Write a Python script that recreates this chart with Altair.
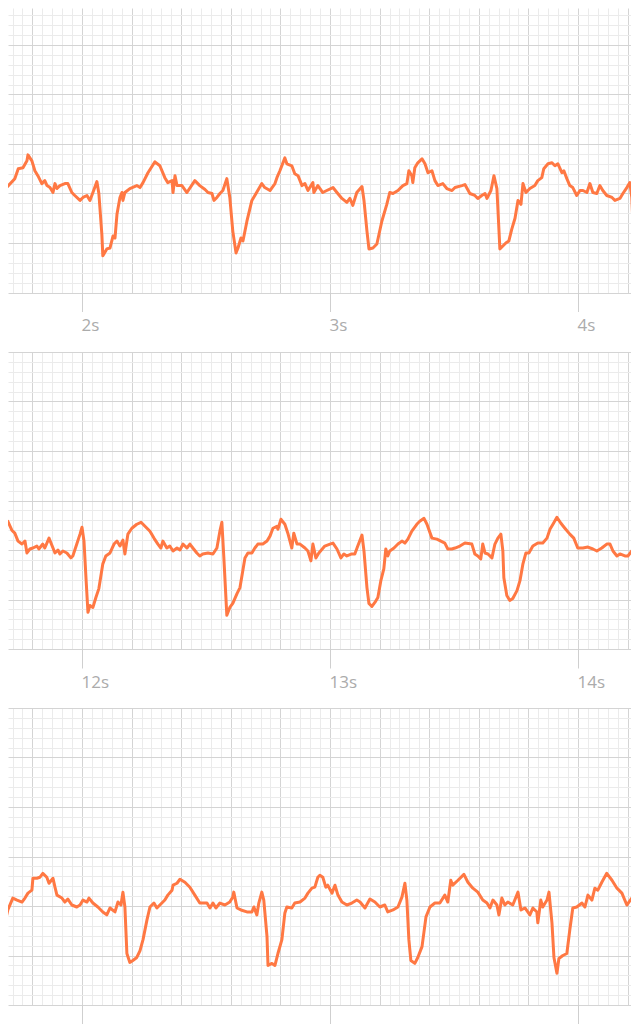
import math
import altair as alt
import pandas as pd

# ---- ECG trace, three strips (time in s, amplitude in mV) ----
t1 = [1.649, 1.669, 1.696, 1.729, 1.743, 1.762, 1.778, 1.782, 1.798, 1.810,
      1.822, 1.838, 1.850, 1.859, 1.871, 1.883, 1.891, 1.899, 1.911, 1.931,
      1.943, 1.959, 1.971, 1.992, 2.004, 2.020, 2.032, 2.044, 2.060, 2.068,
      2.080, 2.084, 2.100, 2.113, 2.125, 2.133, 2.141, 2.153, 2.161, 2.165,
      2.173, 2.193, 2.221, 2.234, 2.246, 2.266, 2.294, 2.314, 2.334, 2.346,
      2.363, 2.367, 2.375, 2.383, 2.403, 2.423, 2.455, 2.475, 2.496, 2.508,
      2.524, 2.532, 2.544, 2.556, 2.568, 2.584, 2.596, 2.608, 2.621, 2.629,
      2.641, 2.649, 2.665, 2.685, 2.697, 2.725, 2.737, 2.758, 2.778, 2.786,
      2.798, 2.818, 2.826, 2.846, 2.858, 2.871, 2.887, 2.899, 2.911, 2.931,
      2.935, 2.951, 2.971, 2.987, 3.012, 3.028, 3.048, 3.068, 3.080, 3.092,
      3.108, 3.129, 3.137, 3.149, 3.157, 3.173, 3.189, 3.209, 3.229, 3.241,
      3.254, 3.274, 3.294, 3.310, 3.318, 3.330, 3.334, 3.342, 3.354, 3.371,
      3.383, 3.395, 3.411, 3.423, 3.435, 3.455, 3.471, 3.492, 3.504, 3.532,
      3.544, 3.564, 3.584, 3.596, 3.612, 3.625, 3.633, 3.649, 3.661, 3.673,
      3.685, 3.697, 3.709, 3.721, 3.733, 3.746, 3.758, 3.770, 3.778, 3.790,
      3.806, 3.826, 3.838, 3.854, 3.862, 3.879, 3.895, 3.907, 3.919, 3.935,
      3.943, 3.955, 3.967, 3.979, 3.995, 4.008, 4.020, 4.036, 4.048, 4.060,
      4.076, 4.088, 4.100, 4.116, 4.137, 4.149, 4.169, 4.181, 4.197, 4.209,
      4.217, 4.225, 4.237, 4.245, 4.257]
v1 = [-0.02, 0.01, 0.06, 0.15, 0.25, 0.26, 0.33, 0.39, 0.33, 0.23,
      0.18, 0.10, 0.13, 0.08, 0.06, 0.01, 0.10, 0.05, 0.08, 0.10,
      0.10, 0.01, -0.02, -0.07, -0.04, -0.02, -0.07, 0.01, 0.12, 0.00,
      -0.41, -0.63, -0.56, -0.55, -0.43, -0.45, -0.21, -0.04, 0.01, -0.07,
      0.01, 0.05, 0.08, 0.06, 0.11, 0.21, 0.32, 0.28, 0.16, 0.11,
      0.13, 0.01, 0.18, 0.08, 0.08, 0.01, 0.13, 0.08, 0.04, 0.01,
      0.00, -0.07, -0.04, 0.00, 0.03, 0.15, -0.04, -0.38, -0.60, -0.55,
      -0.45, -0.48, -0.28, -0.07, -0.02, 0.10, 0.06, 0.03, 0.10, 0.16,
      0.23, 0.36, 0.30, 0.28, 0.20, 0.18, 0.08, 0.10, 0.03, 0.11,
      0.01, 0.08, 0.01, 0.03, 0.06, 0.01, -0.05, -0.09, -0.05, -0.12,
      0.01, 0.07, -0.07, -0.38, -0.56, -0.55, -0.51, -0.28, -0.11, 0.01,
      0.00, 0.03, 0.08, 0.10, 0.23, 0.18, 0.11, 0.26, 0.31, 0.35,
      0.30, 0.21, 0.23, 0.13, 0.08, 0.10, 0.05, 0.03, 0.06, 0.08,
      0.09, 0.00, -0.02, -0.05, -0.02, 0.00, -0.05, 0.03, 0.18, 0.05,
      -0.56, -0.53, -0.50, -0.48, -0.36, -0.25, -0.07, -0.11, 0.10, 0.01,
      0.05, 0.08, 0.13, 0.16, 0.25, 0.30, 0.31, 0.28, 0.30, 0.21,
      0.23, 0.15, 0.08, 0.06, -0.02, 0.03, 0.03, 0.01, 0.10, 0.01,
      0.00, 0.08, 0.03, -0.02, -0.04, -0.07, -0.05, 0.00, 0.06, 0.11,
      -0.04, -0.51, -0.61, -0.60, -0.58]

t2 = [11.653, 11.669, 11.681, 11.693, 11.701, 11.717, 11.729, 11.742, 11.758, 11.770,
      11.778, 11.790, 11.802, 11.818, 11.826, 11.842, 11.850, 11.867, 11.883, 11.891,
      11.903, 11.911, 11.923, 11.939, 11.955, 11.963, 11.979, 11.992, 12.000, 12.008,
      12.016, 12.024, 12.032, 12.044, 12.056, 12.068, 12.084, 12.096, 12.113, 12.129,
      12.141, 12.153, 12.165, 12.173, 12.185, 12.201, 12.221, 12.238, 12.246, 12.262,
      12.274, 12.290, 12.306, 12.318, 12.326, 12.342, 12.354, 12.367, 12.383, 12.395,
      12.407, 12.423, 12.435, 12.447, 12.463, 12.475, 12.487, 12.508, 12.528, 12.544,
      12.556, 12.564, 12.572, 12.584, 12.596, 12.608, 12.625, 12.637, 12.657, 12.669,
      12.685, 12.697, 12.709, 12.729, 12.746, 12.758, 12.770, 12.786, 12.790, 12.802,
      12.818, 12.830, 12.846, 12.854, 12.867, 12.879, 12.899, 12.911, 12.923, 12.931,
      12.943, 12.955, 12.979, 13.000, 13.012, 13.028, 13.044, 13.056, 13.068, 13.088,
      13.100, 13.112, 13.129, 13.137, 13.149, 13.157, 13.169, 13.181, 13.193, 13.205,
      13.217, 13.225, 13.233, 13.241, 13.258, 13.274, 13.290, 13.302, 13.314, 13.330,
      13.350, 13.362, 13.379, 13.391, 13.411, 13.431, 13.447, 13.463, 13.475, 13.491,
      13.504, 13.524, 13.544, 13.572, 13.584, 13.596, 13.608, 13.616, 13.625, 13.637,
      13.653, 13.665, 13.677, 13.689, 13.697, 13.701, 13.713, 13.725, 13.737, 13.754,
      13.766, 13.778, 13.790, 13.802, 13.818, 13.838, 13.858, 13.875, 13.887, 13.899,
      13.915, 13.931, 13.947, 13.967, 13.983, 13.999, 14.020, 14.040, 14.060, 14.076,
      14.096, 14.116, 14.129, 14.141, 14.157, 14.169, 14.189, 14.201, 14.217, 14.229,
      14.245, 14.262]
v2 = [0.26, 0.27, 0.29, 0.26, 0.29, 0.20, 0.17, 0.09, 0.06, 0.09,
      -0.03, 0.01, 0.02, 0.04, 0.01, 0.06, 0.02, 0.12, 0.02, -0.03,
      0.00, -0.04, -0.01, -0.03, -0.08, -0.06, 0.06, 0.16, 0.23, 0.09,
      -0.28, -0.63, -0.56, -0.58, -0.48, -0.39, -0.14, -0.06, -0.03, 0.06,
      0.09, 0.04, 0.10, -0.04, 0.16, 0.22, 0.26, 0.28, 0.26, 0.22,
      0.19, 0.12, 0.06, 0.02, 0.09, 0.02, 0.04, -0.01, 0.02, 0.00,
      0.06, 0.02, 0.06, 0.02, -0.03, -0.06, -0.04, -0.03, -0.04, 0.02,
      0.19, 0.28, -0.08, -0.66, -0.58, -0.54, -0.44, -0.38, -0.08, -0.03,
      -0.03, 0.02, 0.06, 0.06, 0.09, 0.14, 0.22, 0.24, 0.21, 0.31,
      0.26, 0.17, 0.02, 0.17, 0.06, 0.06, 0.02, -0.01, -0.11, 0.06,
      -0.08, -0.03, 0.04, 0.06, 0.07, 0.01, -0.08, -0.04, -0.06, -0.04,
      -0.04, 0.04, 0.15, -0.01, -0.38, -0.54, -0.57, -0.53, -0.48, -0.31,
      -0.19, 0.01, -0.06, -0.01, 0.02, 0.06, 0.09, 0.07, 0.11, 0.19,
      0.26, 0.29, 0.32, 0.26, 0.12, 0.11, 0.09, 0.07, 0.01, 0.01,
      0.02, 0.04, 0.07, 0.06, -0.04, -0.06, -0.09, 0.06, -0.03, -0.04,
      -0.08, 0.06, 0.12, 0.16, -0.01, -0.28, -0.46, -0.51, -0.49, -0.41,
      -0.31, -0.14, -0.03, -0.03, 0.04, 0.07, 0.07, 0.12, 0.21, 0.26,
      0.33, 0.27, 0.22, 0.16, 0.12, 0.02, 0.02, 0.03, 0.01, -0.01,
      0.02, 0.06, 0.06, -0.01, -0.06, -0.04, -0.06, -0.06, -0.01, 0.04,
      0.16, 0.24]

t3 = [21.657, 21.669, 21.681, 21.689, 21.701, 21.721, 21.738, 21.758, 21.770, 21.782,
      21.798, 21.802, 21.818, 21.830, 21.842, 21.858, 21.867, 21.883, 21.891, 21.899,
      21.919, 21.931, 21.943, 21.959, 21.979, 21.992, 22.004, 22.020, 22.028, 22.044,
      22.064, 22.084, 22.100, 22.113, 22.133, 22.145, 22.157, 22.165, 22.173, 22.181,
      22.193, 22.205, 22.221, 22.234, 22.246, 22.262, 22.274, 22.290, 22.302, 22.314,
      22.334, 22.346, 22.363, 22.367, 22.383, 22.395, 22.415, 22.435, 22.455, 22.475,
      22.487, 22.504, 22.516, 22.528, 22.540, 22.556, 22.576, 22.596, 22.608, 22.612,
      22.625, 22.641, 22.665, 22.685, 22.693, 22.705, 22.713, 22.725, 22.733, 22.746,
      22.750, 22.766, 22.778, 22.790, 22.806, 22.818, 22.826, 22.846, 22.858, 22.879,
      22.899, 22.911, 22.927, 22.939, 22.951, 22.959, 22.971, 22.983, 22.991, 23.008,
      23.020, 23.032, 23.048, 23.068, 23.088, 23.108, 23.121, 23.141, 23.161, 23.181,
      23.201, 23.221, 23.233, 23.254, 23.274, 23.290, 23.302, 23.310, 23.318, 23.326,
      23.342, 23.354, 23.371, 23.387, 23.403, 23.423, 23.443, 23.463, 23.475, 23.487,
      23.495, 23.516, 23.540, 23.556, 23.576, 23.596, 23.616, 23.633, 23.645, 23.657,
      23.673, 23.681, 23.693, 23.705, 23.717, 23.737, 23.758, 23.770, 23.786, 23.806,
      23.818, 23.834, 23.838, 23.850, 23.858, 23.875, 23.883, 23.895, 23.903, 23.915,
      23.923, 23.939, 23.955, 23.967, 23.979, 23.995, 24.016, 24.028, 24.040, 24.056,
      24.068, 24.080, 24.096, 24.116, 24.137, 24.157, 24.177, 24.197, 24.217, 24.229,
      24.245, 24.262]
v3 = [-0.50, -0.42, -0.34, -0.17, -0.04, 0.08, 0.06, 0.04, 0.08, 0.13,
      0.16, 0.28, 0.28, 0.29, 0.33, 0.29, 0.23, 0.28, 0.19, 0.11,
      0.08, 0.04, 0.07, 0.01, -0.01, 0.01, 0.06, 0.04, 0.08, 0.03,
      -0.01, -0.06, -0.09, -0.02, -0.06, 0.04, 0.01, 0.14, -0.01, -0.48,
      -0.57, -0.55, -0.52, -0.45, -0.34, -0.14, -0.01, 0.03, -0.02, 0.01,
      0.06, 0.11, 0.16, 0.21, 0.23, 0.27, 0.24, 0.19, 0.11, 0.03,
      0.03, 0.03, -0.02, 0.03, -0.02, 0.03, 0.01, 0.04, 0.09, 0.14,
      -0.02, -0.04, -0.06, -0.06, -0.01, -0.09, 0.03, 0.14, 0.06, -0.31,
      -0.60, -0.58, -0.60, -0.48, -0.34, -0.07, -0.01, -0.02, 0.03, 0.04,
      0.08, 0.13, 0.18, 0.19, 0.29, 0.31, 0.29, 0.19, 0.21, 0.13,
      0.21, 0.11, 0.04, 0.01, 0.03, 0.06, 0.04, -0.02, 0.07, 0.04,
      -0.01, 0.01, -0.06, -0.04, -0.01, 0.09, 0.23, 0.06, -0.34, -0.55,
      -0.58, -0.52, -0.41, -0.11, -0.01, 0.03, 0.03, 0.11, 0.04, 0.26,
      0.21, 0.26, 0.32, 0.24, 0.18, 0.14, 0.06, 0.03, -0.02, 0.06,
      0.01, -0.09, 0.08, 0.01, 0.04, 0.01, 0.14, -0.04, -0.02, -0.09,
      -0.02, -0.06, -0.17, 0.06, -0.01, 0.06, 0.14, -0.17, -0.52, -0.68,
      -0.53, -0.50, -0.48, -0.24, -0.02, -0.01, 0.03, -0.01, 0.11, 0.06,
      0.18, 0.16, 0.24, 0.33, 0.26, 0.18, 0.13, 0.01, 0.08, 0.01,
      -0.01, 0.00]

# visible time window of each strip (s) and amplitude window (mV)
strip_starts = [1.7016, 11.7016, 21.7016]
strip_ends = [4.2137, 14.2137, 24.2137]
amp_lows = [-1.0, -1.0, -1.0]
amp_highs = [1.8737, 2.0, 2.0]
strip_heights = [284.5, 297, 297]
STRIP_WIDTH = 623

LINE_COLOR = "#ff7843"
MAJOR = "#d4d4d4"
MINOR = "#ebebeb"


def grid_values(lo, hi, step):
    k0 = math.ceil(lo / step - 1e-6)
    k1 = math.floor(hi / step + 1e-6)
    return [round(k * step, 3) for k in range(k0, k1 + 1)]


def strip(t, v, x0, x1, y0, y1, h):
    df = pd.DataFrame({"t": t, "mv": v})
    x_axis = alt.Axis(
        values=grid_values(x0, x1, 0.04),
        grid=True,
        gridColor={"condition": {"test": "abs(datum.value / 0.2 - round(datum.value / 0.2)) < 0.01",
                                 "value": MAJOR}, "value": MINOR},
        gridWidth=1,
        domain=False,
        ticks=True,
        tickSize=19,
        tickColor="#cfcfcf",
        tickWidth=1,
        tickOpacity={"condition": {"test": "abs(datum.value - round(datum.value)) < 0.001",
                                   "value": 1}, "value": 0},
        labelExpr="abs(datum.value - round(datum.value)) < 0.001 ? round(datum.value) + 's' : ''",
        labelAlign="left",
        labelBaseline="top",
        labelPadding=6,
        labelOffset=-1,
        labelFont="Open Sans",
        labelFontSize=17,
        labelColor="#ababab",
        labelOverlap=False,
        labelFlush=False,
        labelBound=False,
        title=None,
    )
    y_axis = alt.Axis(
        values=grid_values(y0, y1, 0.1),
        grid=True,
        gridColor={"condition": {"test": "abs(datum.value / 0.5 - round(datum.value / 0.5)) < 0.01",
                                 "value": MAJOR}, "value": MINOR},
        gridWidth=1,
        domain=False,
        ticks=False,
        labels=False,
        title=None,
    )
    return (
        alt.Chart(df)
        .mark_line(color=LINE_COLOR, strokeWidth=3, clip=True,
                   strokeJoin="round", strokeCap="round")
        .encode(
            x=alt.X("t:Q", scale=alt.Scale(domain=[x0, x1], nice=False, zero=False), axis=x_axis),
            y=alt.Y("mv:Q", scale=alt.Scale(domain=[y0, y1], nice=False, zero=False), axis=y_axis),
        )
        .properties(width=STRIP_WIDTH, height=h)
    )


panels = [
    strip(t, v, strip_starts[i], strip_ends[i], amp_lows[i], amp_highs[i], strip_heights[i])
    for i, (t, v) in enumerate([(t1, v1), (t2, v2), (t3, v3)])
]

chart = (
    alt.vconcat(*panels, spacing=59, bounds="flush")
    .properties(padding=0)
    .configure_view(strokeWidth=0)
)

chart.save("out.html", embed_options={"renderer": "svg", "actions": False})
